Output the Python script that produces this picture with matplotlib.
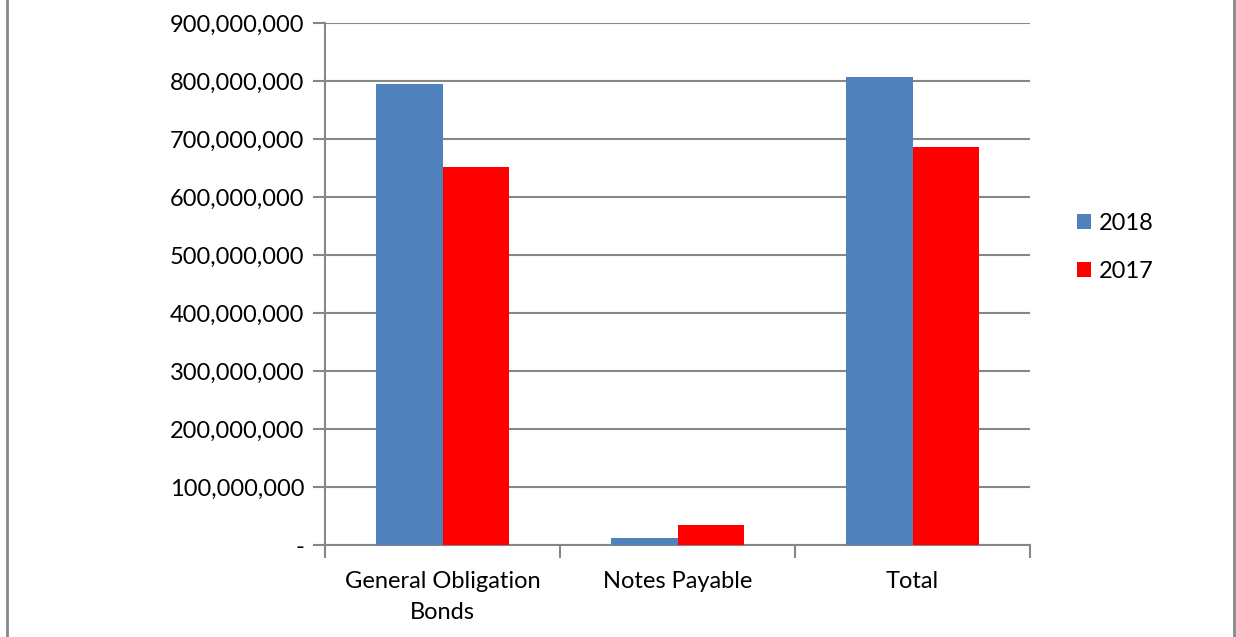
import numpy as np
import matplotlib.pyplot as plt
from matplotlib.ticker import FuncFormatter

# data
categories = ['General Obligation\nBonds', 'Notes Payable', 'Total']
values_2018 = [794000000, 12000000, 807000000]
values_2017 = [652000000, 34000000, 686000000]
series_names = ['2018', '2017']

plt.rcParams['font.family'] = ['Lato', 'DejaVu Sans']

fig = plt.figure(figsize=(12.36, 6.37), dpi=100)
ax = fig.add_axes([325 / 1236, 1 - 545 / 637, (1030 - 325) / 1236, (545 - 23) / 637])

x = np.arange(len(categories))
w = 0.285
ax.bar(x - w / 2, values_2018, w, color='#4f81bd', label=series_names[0], zorder=3)
ax.bar(x + w / 2, values_2017, w, color='#ff0000', label=series_names[1], zorder=3)

ax.set_xlim(-0.5, len(categories) - 0.5)
ax.set_ylim(0, 900000000)
ax.set_yticks(np.arange(0, 900000001, 100000000))
ax.yaxis.set_major_formatter(FuncFormatter(lambda v, p: '-' if v == 0 else f'{int(v):,}'))
ax.grid(axis='y', color='#878787', linewidth=1.5, zorder=0)

# category labels between boundary ticks
ax.set_xticks(np.arange(-0.5, len(categories)), labels=[''] * (len(categories) + 1))
ax.set_xticks(x, labels=categories, minor=True)
for lab in ax.get_xticklabels(minor=True):
    lab.set_linespacing(1.55)
ax.tick_params(axis='x', which='minor', length=0, pad=19, labelsize=17)
ax.tick_params(axis='x', which='major', length=9, width=1.5, color='#878787')
ax.tick_params(axis='y', length=9, width=1.5, color='#878787', labelsize=17, pad=6)

for s in ['top', 'right']:
    ax.spines[s].set_visible(False)
for s in ['left', 'bottom']:
    ax.spines[s].set_color('#878787')
    ax.spines[s].set_linewidth(1.5)

ax.legend(loc='center left', bbox_to_anchor=(1.067, 0.57), frameon=False, fontsize=17,
          handlelength=0.6, handleheight=0.6, handletextpad=0.3, labelspacing=1.15,
          borderaxespad=0, borderpad=0)

# outer frame lines on left and right
fig.add_artist(plt.Line2D([7 / 1236, 7 / 1236], [0, 1], color='#878787', linewidth=2))
fig.add_artist(plt.Line2D([1234 / 1236, 1234 / 1236], [0, 1], color='#878787', linewidth=2))

fig.savefig('out.png', dpi=100)
